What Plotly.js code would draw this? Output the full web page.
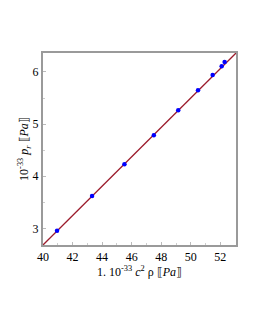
<!DOCTYPE html>
<html>
<head>
<meta charset="utf-8">
<script src="https://cdn.plot.ly/plotly-3.0.1.min.js"></script>
<style>html,body{margin:0;padding:0;background:#fff;}#chart{width:255px;height:330px;}</style>
</head>
<body>
<div id="chart"></div>
<script>
// Data points (energy density vs radial pressure)
const rhoValues = [40.95, 43.32, 45.51, 47.50, 49.15, 50.49, 51.48, 52.09, 52.29];
const prValues  = [2.955, 3.62, 4.23, 4.787, 5.266, 5.65, 5.94, 6.11, 6.19];
// Fitted line endpoints
const fitX = [40, 53.06];
const fitY = [2.68, 6.364];
const xTicks = [40, 42, 44, 46, 48, 50, 52];
const yTicks = [3, 4, 5, 6];

const serif = "'Liberation Serif', 'Times New Roman', serif";
const traces = [
  {x: fitX, y: fitY, mode: 'lines', type: 'scatter',
   line: {color: '#9c1c2c', width: 1.3}, hoverinfo: 'skip'},
  {x: rhoValues, y: prValues, mode: 'markers', type: 'scatter',
   marker: {color: '#0000ff', size: 4.5}}
];
const axisCommon = {
  showline: true, mirror: true, linecolor: '#9a9a9a', linewidth: 2,
  showgrid: false, zeroline: false, ticks: 'inside', ticklen: 3,
  tickcolor: '#bbbbbb', tickfont: {family: serif, size: 12, color: '#000'}
};
const layout = {
  width: 255, height: 330,
  margin: {l: 43, r: 19, t: 53, b: 85},
  showlegend: false,
  paper_bgcolor: '#fff', plot_bgcolor: '#fff',
  xaxis: Object.assign({}, axisCommon, {
    range: [40, 53.06], tickvals: xTicks, ticktext: xTicks.map(String),
    minor: {ticks: 'inside', ticklen: 2, tickcolor: '#cccccc', dtick: 1},
    title: {text: '1. 10<sup>-33</sup> <i>c</i><sup>2</sup> ρ ⟦<i>Pa</i>⟧', font: {family: serif, size: 12, color: '#000'}, standoff: 3}
  }),
  yaxis: Object.assign({}, axisCommon, {
    range: [2.68, 6.364], tickvals: yTicks, ticktext: yTicks.map(String),
    minor: {ticks: 'inside', ticklen: 2, tickcolor: '#cccccc', dtick: 0.5},
    title: {text: '10<sup>-33</sup> <i>p</i><sub><i>r</i></sub> ⟦<i>Pa</i>⟧', font: {family: serif, size: 12, color: '#000'}, standoff: 0}
  })
};
Plotly.newPlot('chart', traces, layout, {staticPlot: true, displayModeBar: false});
</script>
</body>
</html>
